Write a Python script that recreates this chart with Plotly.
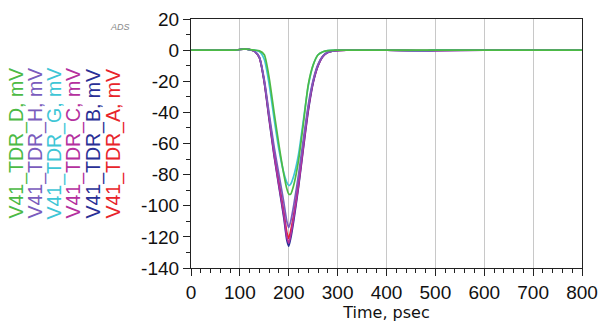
import plotly.graph_objects as go

time_ps = [0, 50, 90, 110, 120, 130, 140, 150, 160, 170, 180, 190, 196, 200, 204, 210, 220, 230, 240, 250, 260, 270, 280, 295, 320, 400, 480, 500, 600, 700, 800]

v_A = [0, 0, 0, 0.8, 0.3, -0.8, -4.8, -20, -43, -65, -85, -104, -117, -121, -116, -106, -85, -60, -37, -20, -9.5, -3.8, -1.4, -0.3, 0, 0, -0.3, 0, 0, 0, 0]
v_B = [0, 0, 0, 0.8, 0.3, -0.8, -5.0, -21, -45, -68, -88, -108, -122, -126, -121, -110, -88, -63, -39, -21, -10, -4.0, -1.5, -0.3, 0, 0, -0.3, 0, 0, 0, 0]
v_C = [0, 0, 0, 0.8, 0.3, -0.8, -4.9, -20.5, -44, -67, -87, -106, -120, -124, -119, -108, -87, -62, -38, -20.5, -10, -4.0, -1.5, -0.3, 0, 0, -0.6, -0.5, 0, 0, 0]
v_G = [0, 0, 0, 0.8, 0.3, 0, -1.0, -6, -22, -44, -64, -79, -85, -87, -86, -81, -67, -45, -23, -9.5, -3, -1.0, -0.3, 0, 0, 0, -0.3, 0, 0, 0, 0]
v_H = [0, 0, 0, 0.8, 0.3, -0.7, -4.5, -19, -41, -62, -80, -98, -110, -114, -110, -100, -80, -57, -35, -19, -9, -3.6, -1.4, -0.3, 0, 0, -0.5, -0.4, 0, 0, 0]
v_D = [0, 0, 0, 0.8, 0.4, 0, -0.5, -3, -18, -40, -61, -80, -89, -92.5, -92.5, -87, -71, -47, -22, -9.5, -3, -1.0, -0.3, 0, 0, 0, 0, 0, 0, 0, 0]

y_ticks = [20, 0, -20, -40, -60, -80, -100, -120, -140]
y_tick_labels = ["20", "0", "-20", "-40", "-60", "-80", "-100", "-120", "-140"]
x_ticks = [0, 100, 200, 300, 400, 500, 600, 700, 800]

series = [
    ("V41_TDR_A, mV", v_A, "#e8242b"),
    ("V41_TDR_B, mV", v_B, "#2a2f96"),
    ("V41_TDR_C, mV", v_C, "#b4309e"),
    ("V41_TDR_G, mV", v_G, "#3ec6d6"),
    ("V41_TDR_H, mV", v_H, "#7a5cbd"),
    ("V41_TDR_D, mV", v_D, "#4cba45"),
]

legend_order = ["V41_TDR_D, mV", "V41_TDR_H, mV", "V41_TDR_G, mV",
                "V41_TDR_C, mV", "V41_TDR_B, mV", "V41_TDR_A, mV"]

fig = go.Figure()
for name, vals, col in series:
    fig.add_trace(go.Scatter(x=time_ps, y=vals, mode="lines", name=name,
                             line=dict(color=col, width=1.7, shape="spline", smoothing=0.6),
                             showlegend=False))

colors = {n: c for n, _, c in series}
label_px = [16, 35, 54, 73, 93, 113]
for px, name in zip(label_px, legend_order):
    fig.add_annotation(text=name, xref="paper", yref="paper", x=0, y=0.50,
                       xshift=px - 191, textangle=-90, showarrow=False,
                       font=dict(family="Liberation Sans, Arial", size=19.5, color=colors[name]),
                       xanchor="center", yanchor="middle")

fig.add_annotation(text="<i>ADS</i>", xref="paper", yref="paper", x=0, y=1,
                   xshift=120 - 191, yshift=-8, showarrow=False,
                   font=dict(family="Liberation Sans, Arial", size=9, color="#888888"),
                   xanchor="center", yanchor="middle")

axis_common = dict(showline=True, linecolor="#222222", linewidth=1.2, mirror=True,
                   ticks="outside", ticklen=7, tickcolor="#222222", tickwidth=1,
                   zeroline=False, automargin=False,
                   tickfont=dict(family="Liberation Sans, Arial", size=19, color="#111111"))

fig.update_xaxes(range=[0, 800], tickvals=x_ticks, showgrid=True, gridcolor="#c8c8c8",
                 gridwidth=1.2,
                 minor=dict(dtick=20, tick0=0, ticks="outside", ticklen=4, tickcolor="#222222", showgrid=False),
                 title=dict(text="Time, psec", standoff=2,
                            font=dict(family="DejaVu Sans", size=16, color="#111111")),
                 **axis_common)
fig.update_yaxes(range=[-140, 20], tickvals=y_ticks, ticktext=y_tick_labels, showgrid=False,
                 minor=dict(dtick=10, tick0=0, ticks="outside", ticklen=4, tickcolor="#222222", showgrid=False),
                 **axis_common)

fig.update_layout(width=600, height=328, margin=dict(l=191, r=18, t=19, b=60),
                  plot_bgcolor="white", paper_bgcolor="white")

fig.write_html("out.html")
